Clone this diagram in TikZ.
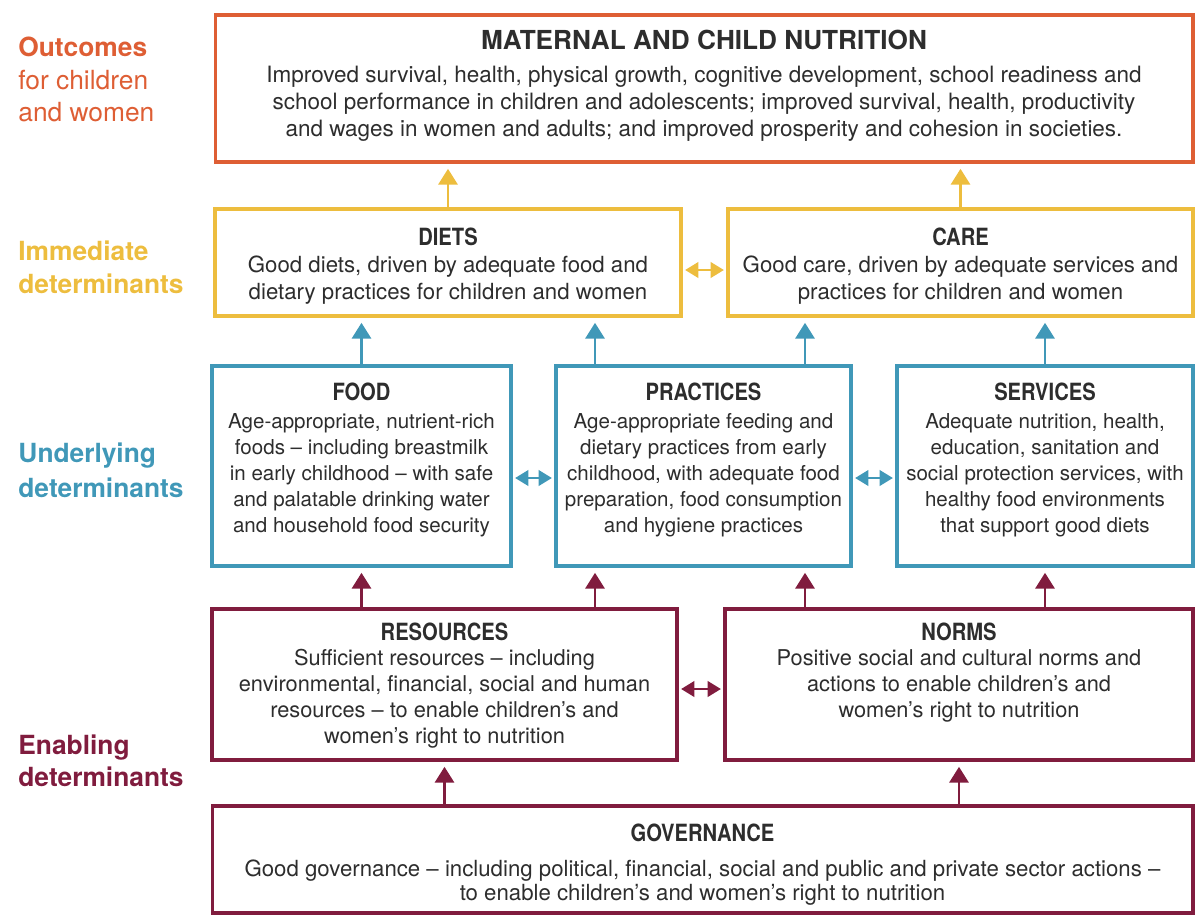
\documentclass[tikz,border=0pt]{standalone}
\usepackage{fontspec}
\setmainfont{TeX Gyre Heros}
\newfontfamily\condfont[FakeStretch=0.85]{TeX Gyre Heros}
\usepackage{xcolor}
\usepackage{tikz}
\usetikzlibrary{positioning,arrows.meta}

\definecolor{outc}{RGB}{222,94,52}
\definecolor{yel}{RGB}{237,189,62}
\definecolor{blu}{RGB}{64,152,184}
\definecolor{mar}{RGB}{128,28,62}
\definecolor{txt}{RGB}{45,45,45}

\begin{document}
\begin{tikzpicture}[x=0.02cm, y=-0.02cm,
    box/.style={draw, rectangle, line width=1.8pt, inner sep=0pt},
    ttl/.style={inner sep=0pt, text=txt, font=\condfont\bfseries\fontsize{13.5}{16}\selectfont},
    bdy/.style={inner sep=0pt, align=center, text=txt, font=\fontsize{11.7}{14.8}\selectfont},
    lbl/.style={anchor=north west, align=left, inner sep=0pt, font=\fontsize{15}{18.3}\selectfont},
    up/.style={-{Triangle[width=11pt,length=9pt]}, line width=1.2pt, shorten >=3pt},
    both/.style={{Triangle[width=9pt,length=7.5pt]}-{Triangle[width=9pt,length=7.5pt]}, line width=0.8pt, shorten >=1.5pt, shorten <=1.5pt}]
    \useasboundingbox (0,0) rectangle (1196,916);

    % Level labels
    \node[lbl, text=outc] (lout) at (18,37) {\textbf{Outcomes}\\for children\\and women};
    \node[lbl, text=yel, font=\bfseries\fontsize{15}{18.3}\selectfont] (limm) at (18,241) {Immediate\\determinants};
    \node[lbl, text=blu, font=\bfseries\fontsize{15}{19.5}\selectfont] (lund) at (18,443) {Underlying\\determinants};
    \node[lbl, text=mar, font=\bfseries\fontsize{15}{18}\selectfont] (lena) at (18,735) {Enabling\\determinants};

    % Outcomes
    \node[box, draw=outc, minimum width=19.56cm, minimum height=2.94cm] (mcn) at (704,88.5) {};
    \node[ttl, font=\bfseries\fontsize{14.9}{18}\selectfont] (mcnT) at (704,40) {MATERNAL AND CHILD NUTRITION};
    \node[bdy, font=\fontsize{12.8}{15.3}\selectfont, below=0.32cm of mcnT] (mcnB) {Improved survival, health, physical growth, cognitive development, school readiness and\\school performance in children and adolescents; improved survival, health, productivity\\and wages in women and adults; and improved prosperity and cohesion in societies.};

    % Immediate determinants
    \node[box, draw=yel, minimum width=9.32cm, minimum height=2.14cm] (diets) at (448,262.5) {};
    \node[ttl] (dietsT) at (448,237) {DIETS};
    \node[bdy, font=\fontsize{12.65}{15.3}\selectfont, below=0.18cm of dietsT] (dietsB) {Good diets, driven by adequate food and\\dietary practices for children and women};

    \node[box, draw=yel, minimum width=9.30cm, minimum height=2.14cm] (care) at (960.5,262.5) {};
    \node[ttl] (careT) at (960.5,237) {CARE};
    \node[bdy, font=\fontsize{12.65}{15.3}\selectfont, below=0.18cm of careT] (careB) {Good care, driven by adequate services and\\practices for children and women};

    % Underlying determinants
    \node[box, draw=blu, minimum width=5.98cm, minimum height=4cm] (food) at (361.5,466) {};
    \node[ttl] (foodT) at (361.5,392) {FOOD};
    \node[bdy, below=0.23cm of foodT] (foodB) {Age-appropriate, nutrient-rich\\foods – including breastmilk\\in early childhood – with safe\\and palatable drinking water\\and household food security};

    \node[box, draw=blu, minimum width=5.9cm, minimum height=4cm] (practices) at (703.5,466) {};
    \node[ttl] (practicesT) at (703.5,392) {PRACTICES};
    \node[bdy, below=0.23cm of practicesT] (practicesB) {Age-appropriate feeding and\\dietary practices from early\\childhood, with adequate food\\preparation, food consumption\\and hygiene practices};

    \node[box, draw=blu, minimum width=5.92cm, minimum height=4cm] (services) at (1045,466) {};
    \node[ttl] (servicesT) at (1045,392) {SERVICES};
    \node[bdy, below=0.23cm of servicesT] (servicesB) {Adequate nutrition, health,\\education, sanitation and\\social protection services, with\\healthy food environments\\that support good diets};

    % Enabling determinants
    \node[box, draw=mar, minimum width=9.3cm, minimum height=3.02cm] (resources) at (444.5,684.5) {};
    \node[ttl] (resourcesT) at (444.5,632) {RESOURCES};
    \node[bdy, font=\fontsize{12.4}{14.8}\selectfont, below=0.15cm of resourcesT] (resourcesB) {Sufficient resources – including\\environmental, financial, social and human\\resources – to enable children’s and\\women’s right to nutrition};

    \node[box, draw=mar, minimum width=9.36cm, minimum height=3.02cm] (norms) at (959,684.5) {};
    \node[ttl] (normsT) at (959,632) {NORMS};
    \node[bdy, font=\fontsize{12.4}{14.8}\selectfont, below=0.15cm of normsT] (normsB) {Positive social and cultural norms and\\actions to enable children’s and\\women’s right to nutrition};

    \node[box, draw=mar, minimum width=19.62cm, minimum height=2.14cm] (governance) at (702.5,859.5) {};
    \node[ttl] (governanceT) at (702.5,833) {GOVERNANCE};
    \node[bdy, font=\fontsize{12.65}{13.8}\selectfont, below=0.34cm of governanceT] (governanceB) {Good governance – including political, financial, social and public and private sector actions –\\to enable children's and women's right to nutrition};

    % Connections
    \coordinate (xb) at (595,0);
    \coordinate (xc) at (805,0);
    \coordinate (yd) at (0,270);
    \coordinate (yu) at (0,478);
    \coordinate (ye) at (0,689);

    \draw[up, yel] (diets.north) -- (diets.north |- mcn.south);
    \draw[up, yel] (care.north) -- (care.north |- mcn.south);
    \draw[both, yel] (diets.east |- yd) -- (care.west |- yd);

    \draw[up, blu] (food.north) -- (food.north |- diets.south);
    \draw[up, blu] (xb |- practices.north) -- (xb |- diets.south);
    \draw[up, blu] (xc |- practices.north) -- (xc |- care.south);
    \draw[up, blu] (services.north) -- (services.north |- care.south);
    \draw[both, blu] (food.east |- yu) -- (practices.west |- yu);
    \draw[both, blu] (practices.east |- yu) -- (services.west |- yu);

    \draw[up, mar] (food.south |- resources.north) -- (food.south);
    \draw[up, mar] (xb |- resources.north) -- (xb |- practices.south);
    \draw[up, mar] (xc |- norms.north) -- (xc |- practices.south);
    \draw[up, mar] (services.south |- norms.north) -- (services.south);
    \draw[both, mar] (resources.east |- ye) -- (norms.west |- ye);
    \draw[up, mar] (resources.south |- governance.north) -- (resources.south);
    \draw[up, mar] (norms.south |- governance.north) -- (norms.south);
\end{tikzpicture}
\end{document}
